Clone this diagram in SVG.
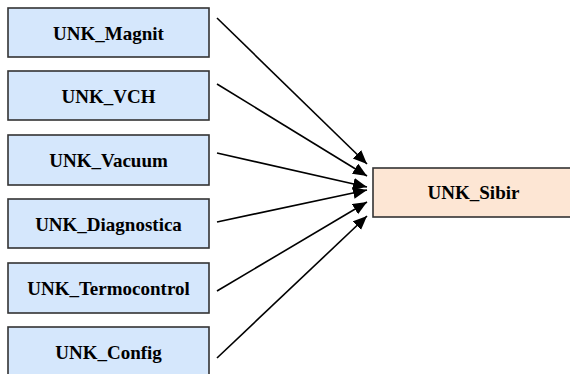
<svg xmlns="http://www.w3.org/2000/svg" width="570" height="374" viewBox="0 0 570 374">
  <style>
    .src rect { fill: #d5e7fc; stroke: #333333; stroke-width: 1.6; }
    .dst rect { fill: #fde6d4; stroke: #333333; stroke-width: 1.6; }
    text { font-family: "Liberation Serif", "Times New Roman", serif; font-weight: bold; font-size: 19px; fill: #000000; text-anchor: middle; }
    .edge { stroke: #000; stroke-width: 1.6; fill: none; marker-end: url(#head); }
  </style>
  <defs>
    <marker id="head" markerUnits="userSpaceOnUse" markerWidth="16" markerHeight="14" refX="14" refY="6" orient="auto">
      <path d="M0,0 L14,6 L0,12 Z" fill="#000"/>
    </marker>
  </defs>

  <rect width="570" height="374" fill="#ffffff"/>

  <g id="UNK_Magnit" class="src">
    <rect x="8" y="8" width="201" height="49"/>
    <text x="108.5" y="40">UNK_Magnit</text>
  </g>
  <g id="UNK_VCH" class="src">
    <rect x="8" y="71" width="201" height="49"/>
    <text x="108.5" y="103">UNK_VCH</text>
  </g>
  <g id="UNK_Vacuum" class="src">
    <rect x="8" y="135" width="201" height="50"/>
    <text x="108.5" y="167">UNK_Vacuum</text>
  </g>
  <g id="UNK_Diagnostica" class="src">
    <rect x="8" y="199" width="201" height="49"/>
    <text x="108.5" y="231">UNK_Diagnostica</text>
  </g>
  <g id="UNK_Termocontrol" class="src">
    <rect x="8" y="263" width="201" height="50"/>
    <text x="108.5" y="295">UNK_Termocontrol</text>
  </g>
  <g id="UNK_Config" class="src">
    <rect x="8" y="327" width="201" height="52"/>
    <text x="108.5" y="359">UNK_Config</text>
  </g>

  <g id="UNK_Sibir" class="dst">
    <rect x="373" y="168" width="200" height="49"/>
    <text x="473.5" y="199">UNK_Sibir</text>
  </g>

  <g id="connectors">
    <line class="edge" x1="217" y1="18" x2="367" y2="164"/>
    <line class="edge" x1="217" y1="84" x2="367" y2="176"/>
    <line class="edge" x1="217" y1="153" x2="367" y2="187"/>
    <line class="edge" x1="217" y1="222" x2="367" y2="190"/>
    <line class="edge" x1="217" y1="291" x2="367" y2="202"/>
    <line class="edge" x1="217" y1="358" x2="367" y2="216"/>
  </g>
</svg>
